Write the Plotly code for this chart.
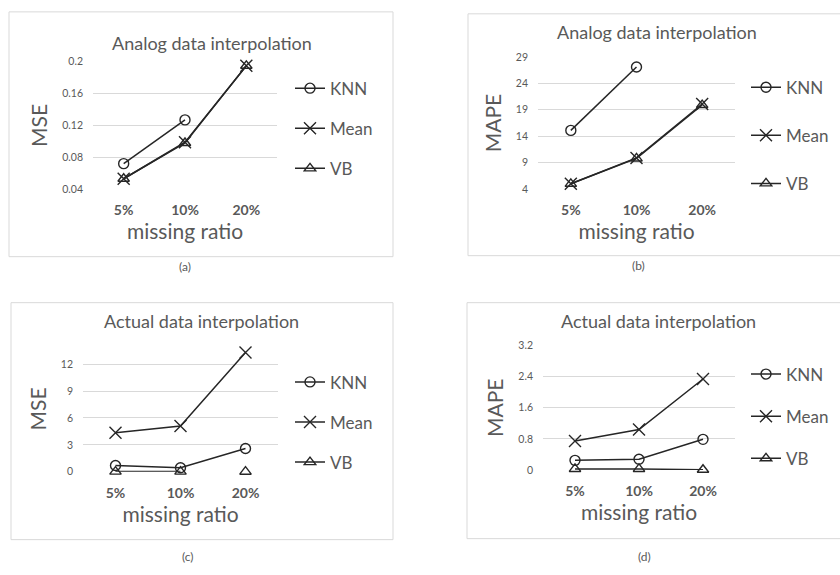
import plotly.graph_objects as go

W, H = 840, 575

categories = ["5%", "10%", "20%"]
series_names = ["KNN", "Mean", "VB"]

# (a) Analog data interpolation - MSE
a_knn = [0.072, 0.127, None]
a_mean = [0.053, 0.099, 0.195]
a_vb = [0.053, 0.098, 0.195]

# (b) Analog data interpolation - MAPE
b_knn = [15.1, 27.1, None]
b_mean = [5.0, 9.9, 20.1]
b_vb = [5.0, 9.8, 19.9]

# (c) Actual data interpolation - MSE
c_knn = [0.7, 0.44, 2.6]
c_mean = [4.35, 5.1, 13.3]
c_vb = [0.02, 0.02, 0.01]
c_vb_line_break_before = 2   # in (c) the VB 20% point is not joined by a line

# (d) Actual data interpolation - MAPE
d_knn = [0.25, 0.28, 0.79]
d_mean = [0.75, 1.04, 2.34]
d_vb = [0.03, 0.03, 0.01]

titles = ["Analog data interpolation", "Analog data interpolation",
          "Actual data interpolation", "Actual data interpolation"]
ytitles = ["MSE", "MAPE", "MSE", "MAPE"]
captions = ["(a)", "(b)", "(c)", "(d)"]
xtitle = "missing ratio"

a_ticks = [0.04, 0.08, 0.12, 0.16, 0.2]
a_ticktext = ["0.04", "0.08", "0.12", "0.16", "0.2"]
b_ticks = [4, 9, 14, 19, 24, 29]
c_ticks = [0, 3, 6, 9, 12]
d_ticks = [0, 0.8, 1.6, 2.4, 3.2]

FONT = "Lato"
TXT = "#595959"
GRID = "#d9d9d9"
LINE = "#262626"

def px(x):
    return x / W

def py(y):
    return 1 - y / H

panels = [
    dict(data=[a_knn, a_mean, a_vb], px=(93, 277), py=(57, 187), yr=[0.04, 0.2],
         ticks=a_ticks, ticktext=a_ticktext, box=(9, 393, 6, 256),
         title=(212, 38), cap=(185, 266), leg=(290, 66), gap=15, brk=None),
    dict(data=[b_knn, b_mean, b_vb], px=(538, 735), py=(52, 187), yr=[4, 29],
         ticks=b_ticks, ticktext=[str(t) for t in b_ticks], box=(468, 850, 8, 255),
         title=(657, 27), cap=(638, 265), leg=(746, 65), gap=23, brk=None),
    dict(data=[c_knn, c_mean, c_vb], px=(83, 278), py=(347.4, 475.7), yr=[0, 14],
         ticks=c_ticks, ticktext=[str(t) for t in c_ticks], box=(11, 393, 303, 545),
         title=(201, 322), cap=(188, 562), leg=(290, 366), gap=15,
         brk=c_vb_line_break_before),
    dict(data=[d_knn, d_mean, d_vb], px=(543, 735), py=(346.7, 474), yr=[0, 3.2],
         ticks=d_ticks, ticktext=["0", "0.8", "1.6", "2.4", "3.2"], box=(467, 850, 303, 544),
         title=(658, 322), cap=(644, 562), leg=(746, 358), gap=17, brk=None),
]

symbols = ["circle-open", "x-thin-open", "triangle-up-open"]
msizes = [10, 12, 10]

fig = go.Figure()
layout = dict(width=W, height=H, margin=dict(l=0, r=0, t=0, b=0),
              paper_bgcolor="white", plot_bgcolor="white",
              font=dict(family=FONT, color=TXT), showlegend=True)
shapes = []
annotations = []

for i, p in enumerate(panels):
    n = "" if i == 0 else str(i + 1)
    legname = "legend" if i == 0 else "legend" + str(i + 1)
    for j, (name, vals) in enumerate(zip(series_names, p["data"])):
        xs, ys = list(categories), list(vals)
        if name == "VB" and p["brk"] is not None:
            k = p["brk"]
            xs = categories[:k] + [categories[k - 1]] + categories[k:]
            ys = list(vals[:k]) + [None] + list(vals[k:])
        fig.add_trace(go.Scatter(
            x=xs, y=ys, name=name, mode="lines+markers",
            xaxis="x" + n, yaxis="y" + n, legend=legname,
            legendgroup=f"{i}-{name}",
            line=dict(color=LINE, width=1.5),
            marker=dict(symbol=symbols[j], size=msizes[j], color=LINE,
                        line=dict(color=LINE, width=1.4)),
            cliponaxis=False, connectgaps=False,
        ))
    layout["xaxis" + n] = dict(
        domain=[px(p["px"][0]), px(p["px"][1])], anchor="y" + n,
        type="category", categoryorder="array", categoryarray=categories,
        range=[-0.5, 2.5], showgrid=False, showline=False,
        zeroline=False, ticks="", ticklabelstandoff=11,
        tickfont=dict(family=FONT, size=14, color=TXT, weight="bold"),
        title=dict(text=xtitle, font=dict(family=FONT, size=21, color=TXT), standoff=4),
    )
    layout["yaxis" + n] = dict(
        domain=[py(p["py"][1]), py(p["py"][0])], anchor="x" + n,
        range=p["yr"], tickvals=p["ticks"], ticktext=p["ticktext"],
        showgrid=True, gridcolor=GRID, gridwidth=1, showline=False,
        zeroline=False, ticks="", ticklabelstandoff=9,
        tickfont=dict(family=FONT, size=10.5, color=TXT),
        title=dict(text=ytitles[i], font=dict(family=FONT, size=21, color=TXT), standoff=8),
    )
    layout[legname] = dict(
        x=px(p["leg"][0]), y=py(p["leg"][1]), xanchor="left", yanchor="top",
        bgcolor="rgba(0,0,0,0)", borderwidth=0,
        font=dict(family=FONT, size=17, color=TXT),
        traceorder="grouped", tracegroupgap=p["gap"], itemwidth=30,
        itemclick=False, itemdoubleclick=False,
    )
    bx = p["box"]
    shapes.append(dict(type="rect", xref="paper", yref="paper",
                       x0=px(bx[0]), x1=px(bx[1]), y0=py(bx[3]), y1=py(bx[2]),
                       line=dict(color=GRID, width=1), fillcolor="rgba(0,0,0,0)",
                       layer="below"))
    annotations.append(dict(text=titles[i], xref="paper", yref="paper",
                            x=px(p["title"][0]), y=py(p["title"][1]),
                            xanchor="center", yanchor="middle", showarrow=False,
                            font=dict(family=FONT, size=18, color=TXT)))
    annotations.append(dict(text=captions[i], xref="paper", yref="paper",
                            x=px(p["cap"][0]), y=py(p["cap"][1]),
                            xanchor="center", yanchor="middle", showarrow=False,
                            font=dict(family=FONT, size=12, color=TXT)))

layout["shapes"] = shapes
layout["annotations"] = annotations
fig.update_layout(**layout)
fig.write_html("out.html", config={"displayModeBar": False},
               post_script="document.body.style.margin='0';")
